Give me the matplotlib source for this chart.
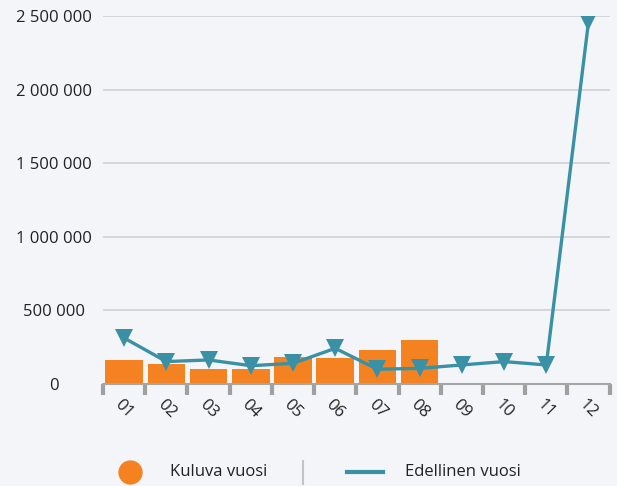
import matplotlib.pyplot as plt
import numpy as np
from matplotlib.lines import Line2D
from matplotlib.ticker import FuncFormatter

months = ['01', '02', '03', '04', '05', '06', '07', '08', '09', '10', '11', '12']
kuluva = [163000, 134000, 100000, 102000, 181000, 174000, 231000, 299000]
edellinen = [312000, 152000, 163000, 124000, 140000, 242000, 100000, 106000,
             129000, 152000, 129000, 2460000]

bg = '#f4f5f9'
orange = '#f58220'
teal = '#3a91a6'
txt = '#222222'

plt.rcParams['font.family'] = ['Open Sans', 'DejaVu Sans']

fig = plt.figure(figsize=(6.17, 4.86), dpi=100, facecolor=bg)
ax = fig.add_axes([0.167, 0.21, 0.821, 0.757], facecolor=bg)

x = np.arange(len(months))
ax.bar(x[:len(kuluva)], kuluva, width=0.89, color=orange, zorder=2)
ax.plot(x, edellinen, color=teal, linewidth=2.4, marker='v', markersize=12.5,
        markeredgewidth=0, zorder=3)

ax.set_xlim(-0.5, len(months) - 0.5)
ax.set_ylim(0, 2500000)
ax.set_yticks(np.arange(0, 2500001, 500000))
ax.yaxis.set_major_formatter(FuncFormatter(lambda v, p: '{:,.0f}'.format(v).replace(',', ' ')))
ax.grid(axis='y', color='#d0d1d6', linewidth=1.2, zorder=0)
ax.set_axisbelow(True)

for s in ['top', 'right', 'left']:
    ax.spines[s].set_visible(False)
ax.spines['bottom'].set_color('#a6a6a6')
ax.spines['bottom'].set_linewidth(1.5)

# y labels are centred around x ~ 54 px
ax.tick_params(axis='y', length=0, pad=35.3, labelsize=12, labelcolor=txt)
for lab in ax.get_yticklabels():
    lab.set_horizontalalignment('center')
ax.set_xticks(x)
ax.set_xticklabels(months, rotation=-45, ha='center', va='top')
ax.tick_params(axis='x', length=0, pad=9, labelsize=12, labelcolor=txt)
ax.set_xticks(np.arange(-0.5, len(months)), minor=True)
ax.tick_params(axis='x', which='minor', length=8, width=3, color='#a0a0a0', direction='out')

# legend
W, H = 617.0, 486.0
fig.add_artist(Line2D([130 / W], [1 - 472 / H], marker='o', markersize=16.5,
                      color=orange, linestyle='none'))
fig.text(170 / W, 1 - 472 / H, 'Kuluva vuosi', fontsize=12, color=txt, va='center')
fig.add_artist(Line2D([303 / W, 303 / W], [1 - 461 / H, 1 - 484 / H], color='#c4c4c4', linewidth=1.5))
fig.add_artist(Line2D([347 / W, 383 / W], [1 - 472 / H, 1 - 472 / H], color=teal, linewidth=3))
fig.text(405 / W, 1 - 472 / H, 'Edellinen vuosi', fontsize=12, color=txt, va='center')

fig.savefig('out.png', dpi=100, facecolor=bg)
